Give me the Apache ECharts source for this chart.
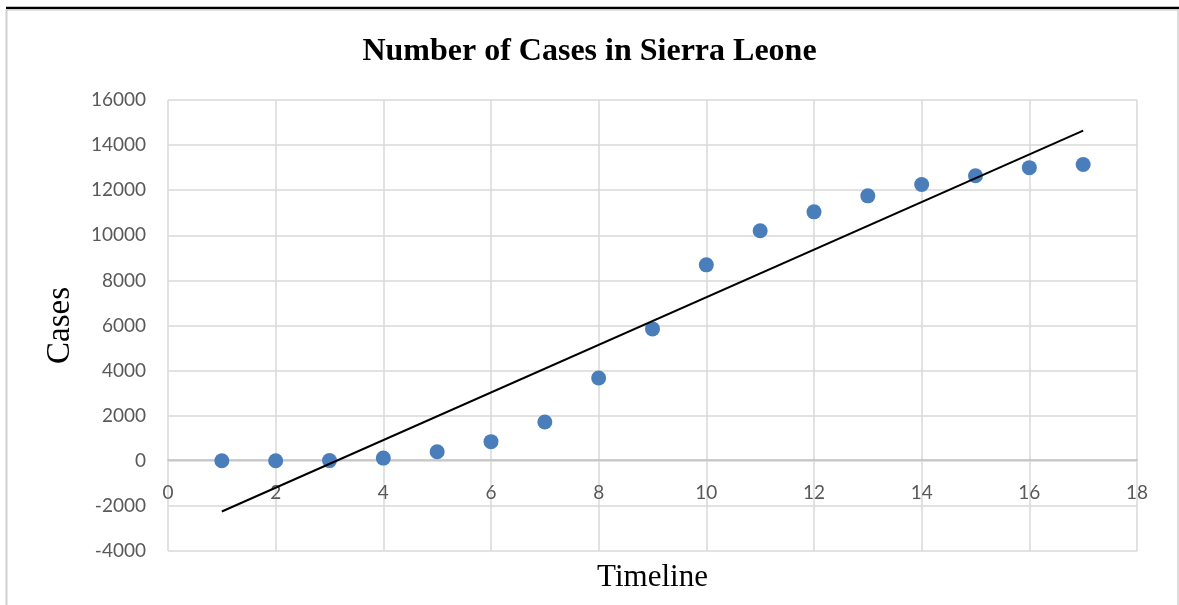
<!DOCTYPE html>
<html>
<head>
<meta charset="utf-8">
<script src="https://cdn.jsdelivr.net/npm/echarts@6/dist/echarts.min.js"></script>
<style>html,body{margin:0;padding:0;background:#fff}#c{width:1179px;height:605px}</style>
</head>
<body>
<div id="c"></div>
<script>
const titleText = 'Number of Cases in Sierra Leone';
const xName = 'Timeline';
const yName = 'Cases';
const timeline = [1,2,3,4,5,6,7,8,9,10,11,12,13,14,15,16,17];
const cases = [0,0,10,120,400,850,1720,3670,5850,8690,10200,11040,11750,12250,12640,13000,13140];
const trendX = [1,17];
const trendY = [-2250,14640];

const chart = echarts.init(document.getElementById('c'));
chart.setOption({
  backgroundColor:'#fff',
  animation:false,
  title:{text:titleText,left:'center',top:31,textStyle:{fontFamily:'Liberation Serif',fontWeight:'bold',fontSize:32,color:'#000'}},
  grid:{left:168,right:42,top:100,bottom:54,containLabel:false,outerBoundsMode:'none'},
  xAxis:{type:'value',min:0,max:18,interval:2,offset:-91,
    name:xName,nameLocation:'middle',nameGap:102,
    nameTextStyle:{fontFamily:'Liberation Serif',fontSize:31,color:'#000'},
    axisLine:{show:true,onZero:false,lineStyle:{color:'#bfbfbf',width:1.5}},
    axisTick:{show:false},
    axisLabel:{margin:23,fontFamily:'Lato',fontSize:19,color:'#595959',formatter:v=>String(v)},
    splitLine:{show:true,lineStyle:{color:'#d9d9d9',width:1.5}}},
  yAxis:{type:'value',min:-4000,max:16000,interval:2000,
    name:yName,nameLocation:'middle',nameGap:91,nameRotate:90,
    nameTextStyle:{fontFamily:'Liberation Serif',fontSize:33,color:'#000'},
    axisLine:{show:false},axisTick:{show:false},
    axisLabel:{margin:22,fontFamily:'Lato',fontSize:19,color:'#595959',formatter:v=>String(v)},
    splitLine:{show:true,lineStyle:{color:'#d9d9d9',width:1.5}}},
  series:[
    {type:'scatter',data:timeline.map((t,i)=>[t,cases[i]]),symbolSize:15,itemStyle:{color:'#4a7ebb',opacity:1},z:3},
    {type:'line',data:trendX.map((t,i)=>[t,trendY[i]]),symbol:'none',lineStyle:{color:'#000',width:2},z:4}
  ],
  graphic:[
    {type:'line',shape:{x1:6,y1:8,x2:1179,y2:8},style:{stroke:'#000',lineWidth:2.5}},
    {type:'line',shape:{x1:7,y1:10,x2:1178,y2:10},style:{stroke:'#d9d9d9',lineWidth:1.5}},
    {type:'line',shape:{x1:6.5,y1:9,x2:6.5,y2:605},style:{stroke:'#d0d0d0',lineWidth:2}},
    {type:'line',shape:{x1:1178,y1:9,x2:1178,y2:605},style:{stroke:'#d0d0d0',lineWidth:1.5}}
  ]
});
</script>
</body>
</html>
